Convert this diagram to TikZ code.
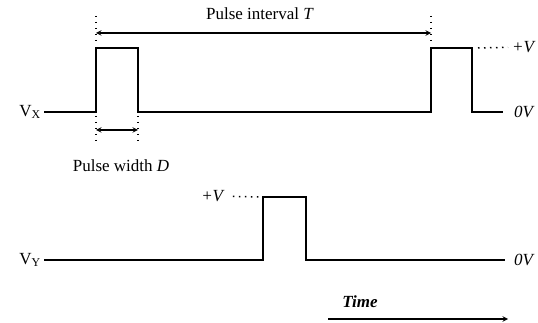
\documentclass[tikz,border=0pt]{standalone}
\usepackage{fontspec}
\setmainfont{Liberation Serif}
\usetikzlibrary{arrows, positioning}
\tikzstyle{wave} = [line width=2.5pt, line join=miter]
\tikzstyle{guide} = [line width=1.5pt, dash pattern=on 1.5pt off 4.5pt]
\tikzstyle{dim} = [line width=1.4pt,<->,>=stealth]
\tikzstyle{arrow} = [line width=1.4pt,->,>=stealth]
\tikzstyle{lbl} = [inner sep=1pt, font=\fontsize{17}{20}\selectfont]

\begin{document}
\begin{tikzpicture}[x=1pt, y=-1pt]
    \useasboundingbox (0,0) rectangle (538,323);
    % Signal X
    \node (vx) [lbl, anchor=east] at (42,112) {V\textsubscript{X}};
    \draw [wave] (44,112) -- (96,112) -- (96,48) -- (138,48) -- (138,112)
        -- (431,112) -- (431,48) -- (472,48) -- (472,112) -- (503,112);
    \node (xhigh) [lbl, anchor=west] at (511,47) {\textit{+V}};
    \node (xlow) [lbl, anchor=west] at (513,112) {\textit{0V}};
    \draw [guide, shorten >=3pt] (478,48) -- (xhigh);
    % Guides and dimensions
    \coordinate (ta) at (96,33);
    \coordinate (tb) at (431,33);
    \coordinate (da) at (96,130);
    \coordinate (db) at (138,130);
    \draw [guide] (96,16) -- (96,46);
    \draw [guide] (431,16) -- (431,46);
    \draw [guide] (96,116) -- (96,143);
    \draw [guide] (138,116) -- (138,143);
    \draw [dim] (ta) -- (tb);
    \draw [dim] (da) -- (db);
    \node (interval) [lbl] at (260,14) {Pulse interval \textit{T}};
    \node (width) [lbl] at (121,166) {Pulse width \textit{D}};
    % Signal Y
    \node (vy) [lbl, anchor=east] at (42,260) {V\textsubscript{Y}};
    \draw [wave] (44,260) -- (263,260) -- (263,197) -- (306,197) -- (306,260) -- (505,260);
    \node (yhigh) [lbl] at (213,196) {\textit{+V}};
    \node (ylow) [lbl, anchor=west] at (513,260) {\textit{0V}};
    \draw [guide, shorten <=7pt] (yhigh) -- (260,197);
    % Time axis
    \node (time) [lbl] at (360,302) {\textit{\textbf{Time}}};
    \coordinate (t0) at (328,319);
    \coordinate (t1) at (508,319);
    \draw [arrow] (t0) -- (t1);
\end{tikzpicture}
\end{document}
